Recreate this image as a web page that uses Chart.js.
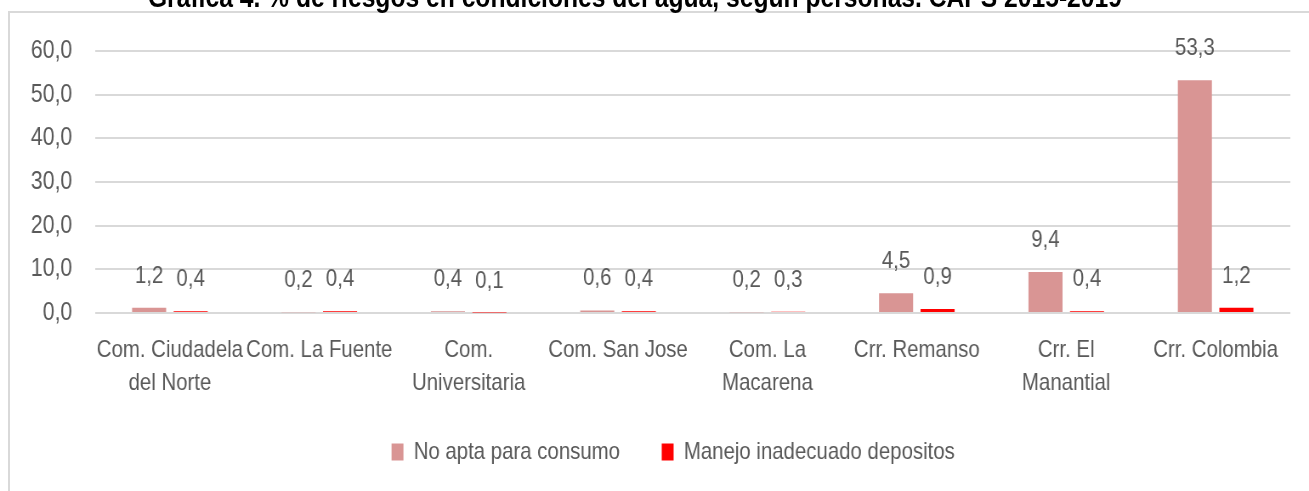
<!DOCTYPE html>
<html>
<head>
<meta charset="utf-8">
<script src="https://cdn.jsdelivr.net/npm/chart.js@4.4.1/dist/chart.umd.min.js"></script>
<style>
  html, body { margin: 0; padding: 0; background: #fff; overflow: hidden; }
  body { width: 1309px; height: 491px; position: relative; }
  .marco {
    position: absolute; left: 8px; top: 11px; width: 1400px; height: 600px;
    border-left: 2px solid #d9d9d9; border-top: 2px solid #d9d9d9;
  }
  /* el original viene comprimido en horizontal: se dibuja más ancho y se estrecha */
  .lienzo {
    position: absolute; left: 0; top: 0; width: 1540px; height: 491px;
    transform: scaleX(0.85); transform-origin: 0 0;
  }
  .titulo {
    position: absolute; left: 0; top: -17px; width: 1494px;
    text-align: center; font: bold 29px 'Liberation Sans', Arial, sans-serif;
    line-height: 29px; color: #000; white-space: nowrap;
  }
  .grafico { position: absolute; left: 0; top: 0; width: 1540px; height: 491px; }
</style>
</head>
<body>
<div class="marco"></div>
<div class="lienzo">
  <div class="titulo">Gráfica 4. % de riesgos en condiciones del agua, según personas. CAPS 2015-2019</div>
  <div class="grafico"><canvas id="riesgosChart"></canvas></div>
</div>
<script>
// Datos de la gráfica
const categorias = [
    ['Com. Ciudadela', 'del Norte'],
    'Com. La Fuente',
    ['Com.', 'Universitaria'],
    'Com. San Jose',
    ['Com. La', 'Macarena'],
    'Crr. Remanso',
    ['Crr. El', 'Manantial'],
    'Crr. Colombia'
];
const noApta = [1.2, 0.2, 0.4, 0.6, 0.2, 4.5, 9.4, 53.3];
const manejoInadecuado = [0.4, 0.4, 0.1, 0.4, 0.3, 0.9, 0.4, 1.2];
const ticksY = [0, 10, 20, 30, 40, 50, 60];

const fuente = "'Liberation Sans', Arial, sans-serif";
const gris = '#595959';

function formatoComa(v) {
    return v.toFixed(1).replace('.', ',');
}

// Etiquetas de valor encima de cada barra
const etiquetasValor = {
    id: 'etiquetasValor',
    afterDatasetsDraw(chart) {
        const ctx = chart.ctx;
        ctx.save();
        ctx.font = '24px ' + fuente;
        ctx.fillStyle = gris;
        ctx.textAlign = 'center';
        ctx.textBaseline = 'alphabetic';
        chart.data.datasets.forEach((ds, i) => {
            chart.getDatasetMeta(i).data.forEach((bar, j) => {
                ctx.fillText(formatoComa(ds.data[j]), bar.x, bar.y - 25);
            });
        });
        ctx.restore();
    }
};

// Corre la leyenda un poco a la derecha, como en el original
const moverLeyenda = {
    id: 'moverLeyenda',
    afterLayout(chart) {
        chart.legend.left += 33;
        chart.legend.right += 33;
    }
};

const ctx = document.getElementById('riesgosChart').getContext('2d');
new Chart(ctx, {
    type: 'bar',
    data: {
        labels: categorias,
        datasets: [{
            label: 'No apta para consumo',
            data: noApta,
            backgroundColor: '#d99594'
        }, {
            label: 'Manejo inadecuado depositos',
            data: manejoInadecuado,
            backgroundColor: '#ff0000'
        }]
    },
    options: {
        responsive: true,
        maintainAspectRatio: false,
        animation: false,
        layout: { padding: { left: 0, right: 22, top: 51, bottom: 17 } },
        datasets: {
            bar: { categoryPercentage: 0.556, barPercentage: 0.82 }
        },
        scales: {
            x: {
                grid: { display: false },
                border: { display: false },
                ticks: {
                    color: gris,
                    font: { family: fuente, size: 24, lineHeight: 1.375 },
                    padding: 13,
                    maxRotation: 0,
                    autoSkip: false
                },
                afterFit(axis) { axis.height = 78; }
            },
            y: {
                min: 0,
                max: 60,
                afterBuildTicks(axis) { axis.ticks = ticksY.map(v => ({ value: v })); },
                grid: { color: '#d9d9d9', lineWidth: 2, drawTicks: false },
                border: { display: false },
                ticks: {
                    color: gris,
                    font: { family: fuente, size: 25 },
                    padding: 27,
                    callback: v => formatoComa(v)
                },
                afterFit(axis) { axis.width = 112; }
            }
        },
        plugins: {
            legend: {
                position: 'bottom',
                labels: {
                    color: gris,
                    font: { family: fuente, size: 24 },
                    boxWidth: 14,
                    boxHeight: 17,
                    padding: 49
                }
            },
            tooltip: { enabled: false }
        }
    },
    plugins: [etiquetasValor, moverLeyenda]
});
</script>
</body>
</html>
